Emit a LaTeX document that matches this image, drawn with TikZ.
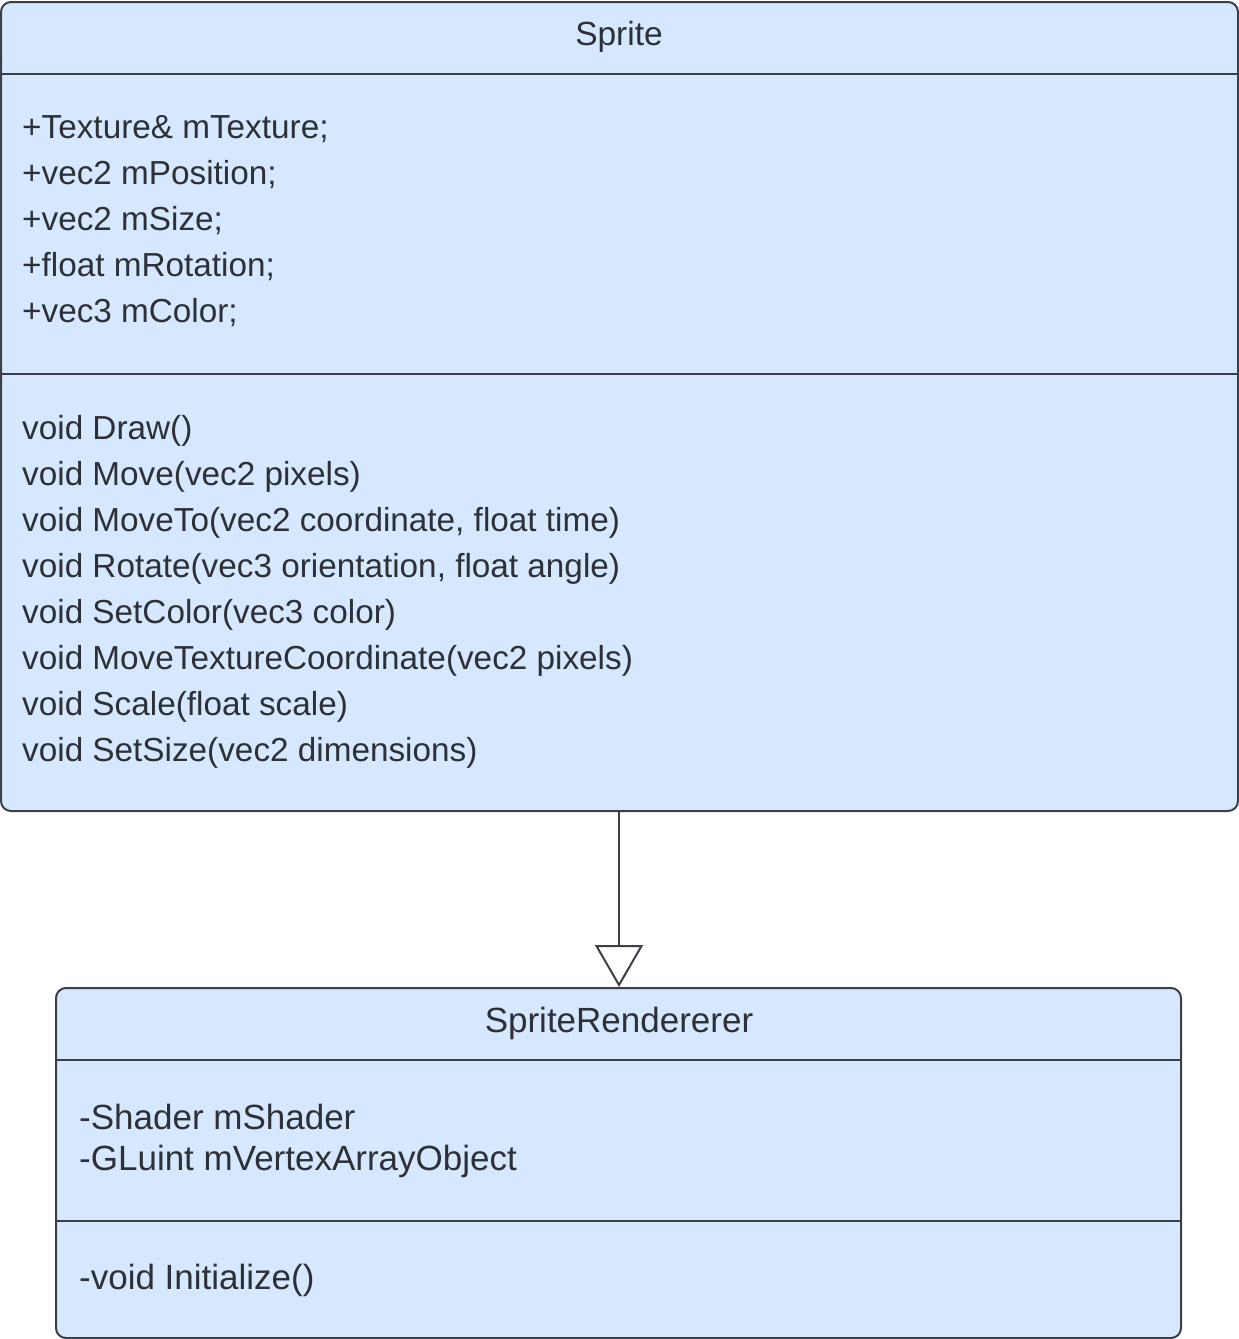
\documentclass[tikz,border=0pt]{standalone}
\usepackage{fontspec}
\setmainfont{Liberation Sans}
\usetikzlibrary{arrows.meta}
\definecolor{boxfill}{RGB}{214,232,255}
\definecolor{boxline}{RGB}{58,63,72}
\definecolor{txt}{RGB}{45,48,54}
\tikzset{
  umlbox/.style={draw=boxline, fill=boxfill, line width=2pt, rounded corners=10pt, inner sep=0pt},
  divider/.style={draw=boxline, line width=2pt},
  member/.style={anchor=base west, inner sep=0pt, text=txt, font=\fontsize{33.3}{46}\selectfont},
  title/.style={anchor=base, inner sep=0pt, text=txt, font=\fontsize{33.5}{46}\selectfont},
  bigmember/.style={member, font=\fontsize{35}{46}\selectfont},
  bigtitle/.style={title, font=\fontsize{35}{46}\selectfont},
  inherit/.style={draw=boxline, line width=2pt, -{Triangle[open, length=42pt, width=48pt, fill=white]}}
}
\begin{document}
\begin{tikzpicture}[x=1pt, y=-1pt]
\useasboundingbox (0,0) rectangle (1239,1339);
% Sprite class
\node[umlbox, minimum width=1237pt, minimum height=809pt] (sprite) at (619.5,406.5) {};
\coordinate (s1l) at (1,74); \coordinate (s1r) at (1238,74);
\coordinate (s2l) at (1,374); \coordinate (s2r) at (1238,374);
\draw[divider] (s1l) -- (s1r);
\draw[divider] (s2l) -- (s2r);
\node[title] (stitle) at (619,45) {Sprite};
\node[member] (a1) at (22,138) {+Texture\& mTexture;};
\node[member] (a2) at (22,184) {+vec2 mPosition;};
\node[member] (a3) at (22,230) {+vec2 mSize;};
\node[member] (a4) at (22,276) {+float mRotation;};
\node[member] (a5) at (22,322) {+vec3 mColor;};
\node[member] (m1) at (22,439) {void Draw()};
\node[member] (m2) at (22,485) {void Move(vec2 pixels)};
\node[member] (m3) at (22,531) {void MoveTo(vec2 coordinate, float time)};
\node[member] (m4) at (22,577) {void Rotate(vec3 orientation, float angle)};
\node[member] (m5) at (22,623) {void SetColor(vec3 color)};
\node[member] (m6) at (22,669) {void MoveTextureCoordinate(vec2 pixels)};
\node[member] (m7) at (22,715) {void Scale(float scale)};
\node[member] (m8) at (22,761) {void SetSize(vec2 dimensions)};
% SpriteRendererer class
\node[umlbox, minimum width=1125pt, minimum height=350pt] (rend) at (618.5,1163) {};
\coordinate (r1l) at (56,1060); \coordinate (r1r) at (1181,1060);
\coordinate (r2l) at (56,1221); \coordinate (r2r) at (1181,1221);
\draw[divider] (r1l) -- (r1r);
\draw[divider] (r2l) -- (r2r);
\node[bigtitle] (rtitle) at (619,1032) {SpriteRendererer};
\node[bigmember] (ra1) at (79,1129) {-Shader mShader};
\node[bigmember] (ra2) at (79,1170) {-GLuint mVertexArrayObject};
\node[bigmember] (rm1) at (79,1289) {-void Initialize()};
% inheritance
\coordinate (top) at (619,811);
\coordinate (tip) at (619,987);
\draw[inherit] (top) -- (tip);
\end{tikzpicture}
\end{document}
